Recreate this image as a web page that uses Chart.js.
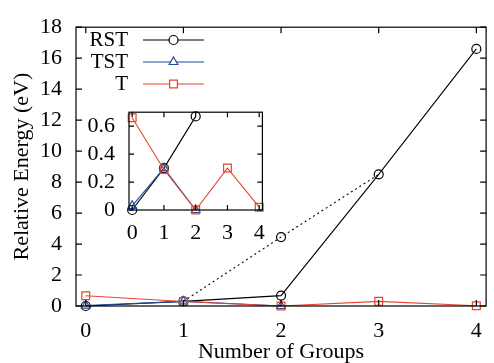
<!DOCTYPE html>
<html>
<head>
<meta charset="utf-8">
<script src="https://cdn.jsdelivr.net/npm/chart.js@4/dist/chart.umd.min.js"></script>
<style>
    body { margin: 0; background: #fff; font-family: "Liberation Serif", "Times New Roman", serif; }
    #wrap { position: relative; width: 494px; height: 363px; }
    #insetChart { position: absolute; left: 60px; top: 85px; }
</style>
</head>
<body>
<div id="wrap">
    <canvas id="mainChart" width="494" height="363"></canvas>
    <canvas id="insetChart" width="215" height="165"></canvas>
</div>
<script>
const groups = [0, 1, 2, 3, 4];
const rstEnergy = [0, 0.3, 0.67, 8.5, 16.6];
const tstEnergy = [0.03, 0.3, 0];
const tEnergy = [0.66, 0.29, 0, 0.3, 0.02];

// dotted RST guide through 2 groups
const rstGuideGroups = [1, 2, 3];
const rstGuideEnergy = [0.3, 4.45, 8.5];

// the inset only shows RST up to 2 groups
const insetRstCount = 3;

const groupTicks = [0, 1, 2, 3, 4];
const mainEnergyTicks = [0, 2, 4, 6, 8, 10, 12, 14, 16, 18];
const insetEnergyTicks = [0, 0.2, 0.4, 0.6];

const BLACK = '#000000';
const BLUE = '#1f4e9f';
const RED = '#e8452f';
const FONT = '"Liberation Serif", "Times New Roman", serif';

Chart.defaults.font.family = FONT;
Chart.defaults.font.size = 22;
Chart.defaults.color = '#000';

function points(xs, ys) {
    return ys.map((y, i) => ({ x: xs[i], y: y }));
}

function series(label, xs, ys, color, style, radius, order) {
    return {
        label: label,
        data: points(xs, ys),
        borderColor: color,
        borderWidth: 1.1,
        pointStyle: style,
        pointRadius: radius,
        pointBorderColor: color,
        pointBackgroundColor: 'rgba(0,0,0,0)',
        pointBorderWidth: 1.2,
        tension: 0,
        fill: false,
        clip: false,
        order: order
    };
}

function buildDatasets(inset) {
    let rst = inset ? rstEnergy.slice(0, insetRstCount) : rstEnergy;
    let sets = [
        series('RST', groups, rst, BLACK, 'circle', 4.5, 2),
        series('TST', groups, tstEnergy, BLUE, 'triangle', 5, 1),
        series('T', groups, tEnergy, RED, 'rect', 5.5, 0)
    ];
    if (!inset) {
        let guide = series('', rstGuideGroups, rstGuideEnergy, BLACK, 'circle', [0, 4.5, 0], 3);
        guide.borderDash = [2, 3];
        guide.inLegend = false;
        sets.push(guide);
    }
    return sets;
}

// frame round the plot with inward ticks on all four sides
const framePlugin = {
    id: 'frame',
    beforeDraw(chart, args, opts) {
        if (!opts.fill) return;
        let a = chart.chartArea;
        chart.ctx.save();
        chart.ctx.fillStyle = opts.fill;
        chart.ctx.fillRect(a.left, a.top, a.right - a.left, a.bottom - a.top);
        chart.ctx.restore();
    },
    afterDraw(chart, args, opts) {
        let ctx = chart.ctx;
        let a = chart.chartArea;
        let len = opts.len || 6;
        ctx.save();
        ctx.strokeStyle = '#000';
        ctx.lineWidth = 1.2;
        ctx.strokeRect(a.left, a.top, a.right - a.left, a.bottom - a.top);
        ctx.beginPath();
        chart.scales.x.ticks.forEach(t => {
            let px = chart.scales.x.getPixelForValue(t.value);
            ctx.moveTo(px, a.bottom); ctx.lineTo(px, a.bottom - len);
            ctx.moveTo(px, a.top); ctx.lineTo(px, a.top + len);
        });
        chart.scales.y.ticks.forEach(t => {
            let py = chart.scales.y.getPixelForValue(t.value);
            ctx.moveTo(a.left, py); ctx.lineTo(a.left + len, py);
            ctx.moveTo(a.right, py); ctx.lineTo(a.right - len, py);
        });
        ctx.stroke();
        ctx.restore();
    }
};

// key: label right-aligned, then a line sample with the marker in the middle
const keyPlugin = {
    id: 'key',
    afterDraw(chart, args, opts) {
        if (!opts.show) return;
        let ctx = chart.ctx;
        let row = 0;
        ctx.save();
        chart.data.datasets.forEach(ds => {
            if (ds.inLegend === false) return;
            let y = opts.top + row * opts.step;
            ctx.font = opts.size + 'px ' + FONT;
            ctx.fillStyle = '#000';
            ctx.textAlign = 'right';
            ctx.textBaseline = 'middle';
            ctx.fillText(ds.label, opts.textRight, y);
            ctx.strokeStyle = ds.borderColor;
            ctx.lineWidth = 1.2;
            ctx.beginPath();
            ctx.moveTo(opts.lineStart, y);
            ctx.lineTo(opts.lineEnd, y);
            ctx.stroke();
            ctx.fillStyle = '#ffffff';
            ctx.lineWidth = ds.pointBorderWidth;
            Chart.helpers.drawPoint(ctx, {
                pointStyle: ds.pointStyle,
                radius: ds.pointRadius,
                rotation: 0,
                borderWidth: ds.pointBorderWidth
            }, (opts.lineStart + opts.lineEnd) / 2, y);
            row++;
        });
        ctx.restore();
    }
};

function makeScales(yMax, yTicks, xHeight, yWidth, xPad, withTitles) {
    return {
        x: {
            type: 'linear',
            min: -0.1,
            max: 4.1,
            afterBuildTicks: s => { s.ticks = groupTicks.map(v => ({ value: v })); },
            afterFit: s => { s.height = xHeight; },
            grid: { display: false, drawTicks: false },
            border: { display: false },
            ticks: { padding: xPad },
            title: {
                display: withTitles,
                text: 'Number of Groups',
                font: { size: 22, lineHeight: 1.0 },
                padding: { top: 0, bottom: 0 }
            }
        },
        y: {
            type: 'linear',
            min: 0,
            max: yMax,
            afterBuildTicks: s => { s.ticks = yTicks.map(v => ({ value: v })); },
            afterFit: s => { s.width = yWidth; },
            grid: { display: false, drawTicks: false },
            border: { display: false },
            ticks: { padding: 14 },
            title: {
                display: withTitles,
                text: 'Relative Energy (eV)',
                font: { size: 22, lineHeight: 1.2 },
                padding: { top: 9, bottom: 0 }
            }
        }
    };
}

function drawCharts() {
    new Chart(document.getElementById('mainChart'), {
        type: 'line',
        data: { datasets: buildDatasets(false) },
        options: {
            responsive: false,
            animation: false,
            layout: { padding: { left: 0, right: 1, top: 21, bottom: 0 } },
            scales: makeScales(18, mainEnergyTicks, 57, 76, 12, true),
            plugins: {
                legend: { display: false },
                tooltip: { enabled: false },
                frame: { len: 6 },
                key: { show: true, size: 21, top: 40, step: 22, textRight: 128, lineStart: 143, lineEnd: 204 }
            }
        },
        plugins: [framePlugin, keyPlugin]
    });

    new Chart(document.getElementById('insetChart'), {
        type: 'line',
        data: { datasets: buildDatasets(true) },
        options: {
            responsive: false,
            animation: false,
            layout: { padding: { left: 0, right: 12, top: 14, bottom: 0 } },
            scales: makeScales(0.7, insetEnergyTicks, 40, 69, 10, false),
            plugins: {
                legend: { display: false },
                tooltip: { enabled: false },
                frame: { len: 5, fill: '#ffffff' },
                key: { show: false }
            }
        },
        plugins: [framePlugin, keyPlugin]
    });
}

document.fonts.load('22px "Liberation Serif"').then(drawCharts, drawCharts);
</script>
</body>
</html>
